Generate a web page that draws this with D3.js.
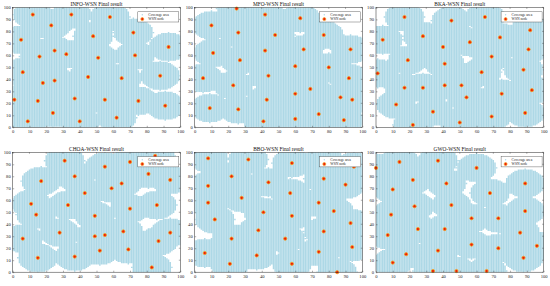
<!DOCTYPE html>
<html><head><meta charset="utf-8">
<script src="https://cdn.jsdelivr.net/npm/d3@7"></script>
<style>body{margin:0;background:#fff}</style></head><body>
<script>
const algorithms = ["INFO","MFO","BKA","CHOA","BBO","GWO"];
const infoNodes = [[12,94],[35,94],[58,92],[23,85],[72,79],[48,76],[5,73],[93,67],[25,64],[32,61],[16,59],[73,60],[51,58],[6,46],[45,42],[65,41],[88,43],[25,39],[18,37],[1,23],[15,22],[37,24],[55,23],[75,22],[91,18],[24,12],[9,5],[40,5],[62,8]];
const mfoNodes = [[25,99],[42,94],[63,91],[10,85],[26,79],[48,77],[77,77],[11,62],[42,64],[65,65],[93,65],[27,56],[60,51],[80,50],[5,41],[44,43],[92,41],[23,35],[69,32],[60,28],[87,25],[43,23],[94,23],[9,16],[26,15],[74,11],[60,7],[89,6],[41,5]];
const bkaNodes = [[17,92],[65,92],[45,89],[92,81],[4,73],[28,76],[74,75],[56,71],[40,67],[91,65],[69,59],[19,56],[41,53],[88,48],[63,46],[1,45],[17,33],[28,33],[41,35],[51,35],[93,31],[54,25],[75,28],[12,19],[34,13],[89,12],[69,9],[50,4],[22,2]];
const choaNodes = [[85,97],[31,93],[70,92],[55,88],[37,80],[81,82],[17,76],[94,77],[65,74],[59,70],[43,66],[11,57],[33,56],[86,56],[70,53],[14,48],[49,47],[28,33],[66,34],[94,33],[49,30],[55,31],[6,28],[87,26],[52,18],[69,19],[37,13],[15,12],[83,4]];
const bboNodes = [[8,95],[32,94],[77,93],[58,91],[95,88],[22,80],[77,78],[44,75],[90,73],[8,72],[57,66],[28,62],[8,58],[74,58],[83,51],[41,50],[58,47],[12,44],[93,41],[38,35],[77,34],[22,28],[54,28],[94,21],[6,16],[74,17],[37,14],[21,7],[58,7],[85,0]];
const gwoNodes = [[0,87],[14,92],[37,93],[60,87],[22,77],[42,74],[89,74],[10,69],[68,66],[45,56],[23,55],[89,51],[9,48],[57,45],[73,45],[25,36],[41,36],[86,33],[7,31],[57,23],[73,20],[96,22],[37,18],[18,15],[88,12],[10,8],[34,1],[48,1],[66,1]];
const panelNodes = [infoNodes,mfoNodes,bkaNodes,choaNodes,bboNodes,gwoNodes];
const sensingRadius = 12;
const gridValues = d3.range(0,101,1);
const tickValues = d3.range(0,101,10);
const legendLabels = ["Coverage area","WSN node"];

const W=550,H=286;
const svg=d3.select("body").append("svg").attr("width",W).attr("height",H)
  .style("font-family","'Liberation Serif','Times New Roman',serif");
const lefts=[12.7,194.7,376], tops=[7.4,152.3], pw=167.6, ph=119.9;
const coverColor="#add8e6";

panelNodes.forEach((nodes,i)=>{
  const col=i%3,row=Math.floor(i/3);
  const g=svg.append("g").attr("transform",`translate(${lefts[col]},${tops[row]})`);
  const x=d3.scaleLinear().domain([0,100]).range([0,pw]);
  const y=d3.scaleLinear().domain([0,100]).range([ph,0]);
  const cid="clip"+i;
  g.append("clipPath").attr("id",cid).append("rect").attr("width",pw).attr("height",ph);
  let p="";
  const r2=sensingRadius*sensingRadius;
  gridValues.forEach(gx=>{
    gridValues.forEach(gy=>{
      const cov=nodes.some(n=>(n[0]-gx)*(n[0]-gx)+(n[1]-gy)*(n[1]-gy)<=r2);
      if(cov){p+=`M${(x(gx)-0.72).toFixed(2)},${(y(gy)-0.7).toFixed(2)}h1.44v1.4h-1.44z`;}
    });
  });
  g.append("path").attr("d",p).attr("fill",coverColor).attr("clip-path",`url(#${cid})`);
  g.selectAll("circle.node").data(nodes).join("circle").attr("class","node")
    .attr("cx",d=>x(d[0])).attr("cy",d=>y(d[1])).attr("r",1.6)
    .attr("fill","#ec1c0c").attr("stroke","#f7a21b").attr("stroke-width",0.8);
  const xa=d3.axisBottom(x).tickValues(tickValues).tickSizeInner(-1.5).tickSizeOuter(0).tickPadding(2.5);
  const ya=d3.axisLeft(y).tickValues(tickValues).tickSizeInner(-1.5).tickSizeOuter(0).tickPadding(2);
  const gx=g.append("g").attr("transform",`translate(0,${ph})`).call(xa);
  const gy=g.append("g").call(ya);
  [gx,gy].forEach(a=>{
    a.select(".domain").remove();
    a.selectAll("line").attr("stroke","#333").attr("stroke-width",0.4);
    a.selectAll("text").attr("font-size",4.6).attr("fill","#262626").attr("font-family","'Liberation Serif',serif");
  });
  g.selectAll("line.tt").data(tickValues).join("line").attr("class","tt")
    .attr("x1",d=>x(d)).attr("x2",d=>x(d)).attr("y1",0).attr("y2",1.5).attr("stroke","#333").attr("stroke-width",0.4);
  g.selectAll("line.rt").data(tickValues).join("line").attr("class","rt")
    .attr("y1",d=>y(d)).attr("y2",d=>y(d)).attr("x1",pw).attr("x2",pw-1.5).attr("stroke","#333").attr("stroke-width",0.4);
  g.append("rect").attr("width",pw).attr("height",ph).attr("fill","none").attr("stroke","#262626").attr("stroke-width",0.5);
  g.append("text").attr("x",pw/2).attr("y",-1.6).attr("text-anchor","middle")
    .attr("font-size",5.4).attr("fill","#111").text(`${algorithms[i]}-WSN Final result`);
  const lg=g.append("g").attr("transform",`translate(${pw-42.5},4.4)`);
  lg.append("rect").attr("width",41).attr("height",10.2).attr("fill","#fff").attr("stroke","#444").attr("stroke-width",0.4);
  lg.append("circle").attr("cx",4.5).attr("cy",3).attr("r",0.7).attr("fill",coverColor);
  lg.append("circle").attr("cx",4.5).attr("cy",7.3).attr("r",1.5).attr("fill","#ec1c0c").attr("stroke","#f7a21b").attr("stroke-width",0.7);
  lg.selectAll("text").data(legendLabels).join("text")
    .attr("x",10.5).attr("y",(d,k)=>4.2+k*4.3).attr("font-size",3.6).attr("fill","#222").text(d=>d);
});
</script>
</body></html>
